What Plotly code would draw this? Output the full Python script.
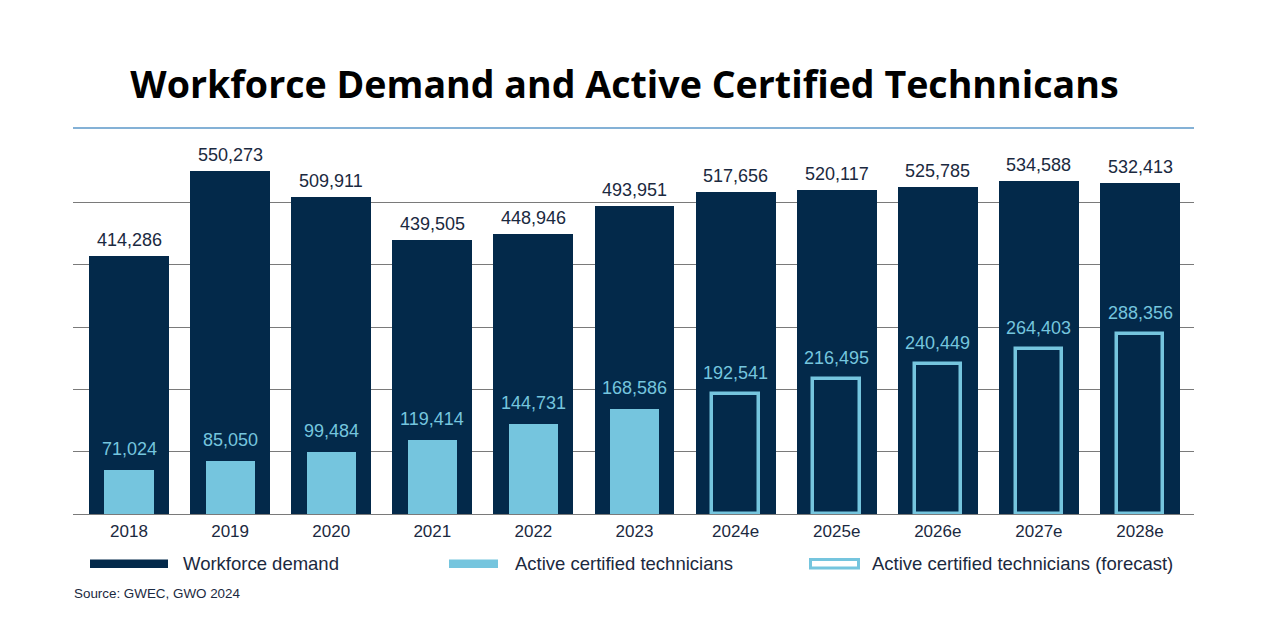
import plotly.graph_objects as go

years = ["2018", "2019", "2020", "2021", "2022", "2023",
         "2024e", "2025e", "2026e", "2027e", "2028e"]
workforce_demand = [414286, 550273, 509911, 439505, 448946, 493951,
                    517656, 520117, 525785, 534588, 532413]
active_certified = [71024, 85050, 99484, 119414, 144731, 168586,
                    None, None, None, None, None]
active_forecast = [None, None, None, None, None, None,
                   192541, 216495, 240449, 264403, 288356]
grid_values = [0, 100000, 200000, 300000, 400000, 500000]

NAVY = "#03294a"
LIGHT = "#75c5de"
TXT = "#1b2940"
FONT = "Liberation Sans"

# page body has an 8px margin, so the figure is drawn 8px in from the corner
W, H = 1268, 620
OFF = 8
PL, PR, PT, PB = 73 - OFF, 1194 - OFF, 128 - OFF, 514 - OFF  # plot box, figure px


def px_x(x):
    return (x - OFF - PL) / (PR - PL)


def px_y(y):
    return (PB - (y - OFF)) / (PB - PT)


fig = go.Figure()

fig.add_trace(go.Bar(
    x=years, y=workforce_demand, width=0.79,
    marker=dict(color=NAVY, line=dict(width=0)), name="Workforce demand",
))
fig.add_trace(go.Bar(
    x=years, y=active_certified, width=0.485,
    marker=dict(color=LIGHT, line=dict(width=0)), name="Active certified technicians",
))
fig.add_trace(go.Bar(
    x=years, y=active_forecast, width=0.46,
    marker=dict(color="rgba(0,0,0,0)", line=dict(color=LIGHT, width=3.5)),
    name="Active certified technicians (forecast)",
))

# value labels above the bars (x given as category index: "2018" would be read as a number)
for series, color, shift in [(workforce_demand, TXT, 16),
                             (active_certified, LIGHT, 21),
                             (active_forecast, LIGHT, 21)]:
    for i, v in enumerate(series):
        if v is None:
            continue
        fig.add_annotation(x=i, y=v, text=f"{v:,}", showarrow=False,
                           yanchor="middle", yshift=shift,
                           font=dict(family=FONT, size=18, color=color))

# top rule
fig.add_shape(type="line", xref="paper", yref="paper", x0=0, x1=1, y0=1, y1=1,
              line=dict(color="#5b97c8", width=1.3))

# legend drawn by hand (wide flat swatches)
legend_items = [
    (90, 168, dict(fillcolor=NAVY, line=dict(width=0)), 183, "Workforce demand"),
    (449, 498, dict(fillcolor=LIGHT, line=dict(width=0)), 515, "Active certified technicians"),
    (810.5, 858.5, dict(fillcolor="rgba(0,0,0,0)", line=dict(color=LIGHT, width=3)), 872,
     "Active certified technicians (forecast)"),
]
for x0, x1, style, tx, label in legend_items:
    fig.add_shape(type="rect", xref="paper", yref="paper",
                  x0=px_x(x0), x1=px_x(x1), y0=px_y(568), y1=px_y(559.5), **style)
    fig.add_annotation(xref="paper", yref="paper", x=px_x(tx - 2), y=px_y(563),
                       text=label, showarrow=False, xanchor="left", yanchor="middle",
                       font=dict(family=FONT, size=18.5, color=TXT))

fig.add_annotation(xref="paper", yref="paper", x=px_x(72), y=px_y(593),
                   text="Source: GWEC, GWO 2024", showarrow=False,
                   xanchor="left", yanchor="middle",
                   font=dict(family=FONT, size=13.4, color=TXT))

fig.update_layout(
    width=W, height=H,
    barmode="overlay", bargap=0,
    showlegend=False,
    paper_bgcolor="white", plot_bgcolor="white",
    margin=dict(l=PL, r=W - PR, t=PT, b=H - PB),
    title=dict(text="<b>Workforce Demand and Active Certified Technnicans</b>",
               x=(624.5 - OFF) / W, xanchor="center",
               y=1 - (85 - OFF) / H, yanchor="middle",
               font=dict(family="Open Sans", size=37.6, color="black")),
    xaxis=dict(type="category", range=[-0.554, 10.534], showgrid=False,
               showline=False, ticks="outside", ticklen=2, tickcolor="rgba(0,0,0,0)",
               tickfont=dict(family=FONT, size=17, color=TXT)),
    yaxis=dict(range=[0, 620000], tickvals=grid_values, showgrid=True,
               gridcolor="#7a7a7a", gridwidth=1, showticklabels=False,
               zeroline=True, zerolinecolor="#7a7a7a", zerolinewidth=1,
               showline=False, ticks=""),
    font=dict(family=FONT, color=TXT),
)

fig.write_html("out.html")
